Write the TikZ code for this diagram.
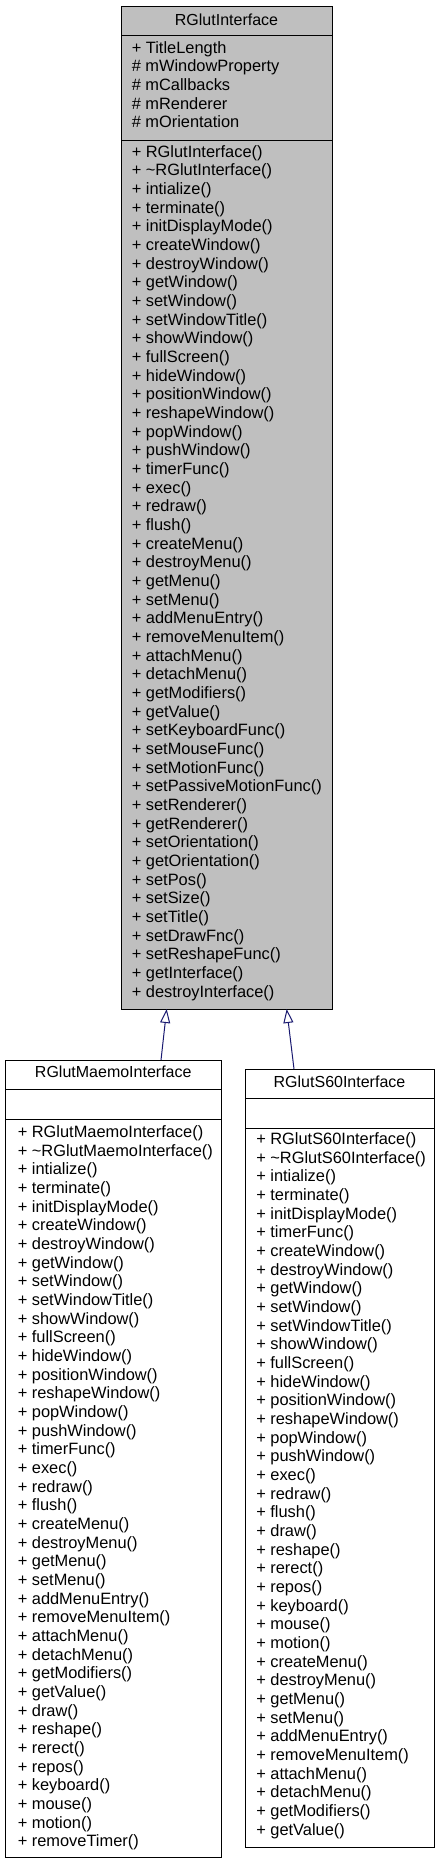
\documentclass[tikz,border=0pt]{standalone}
\usepackage{fontspec}
\setmainfont{Liberation Sans}
\usetikzlibrary{arrows.meta,fit}
\definecolor{edgeblue}{HTML}{191970}
\definecolor{basegray}{HTML}{BFBFBF}
\begin{document}
\begin{tikzpicture}[x=0.75pt,y=-0.75pt,
  classbox/.style={draw=black, line width=0.75pt, inner sep=0pt},
  member/.style={anchor=base west, inner sep=0pt, font=\fontsize{12.3pt}{14pt}\selectfont},
  classtitle/.style={anchor=base, inner sep=0pt, font=\fontsize{12pt}{14pt}\selectfont},
  sepline/.style={line width=0.75pt, draw=black},
  inherit/.style={draw=edgeblue, line width=0.75pt, -{Triangle[length=10.5pt,width=7.5pt,fill=white]}}]
\useasboundingbox (0,0) rectangle (443,1864);

% ---------- base class ----------
\coordinate (bnw) at (121,6);
\coordinate (bse) at (332,1009);
\node[classbox, fill=basegray, fit=(bnw)(bse)] (base) {};
\draw[sepline] (121,35) -- (332,35);
\draw[sepline] (121,140) -- (332,140);
\node[classtitle] (btitle) at (226.5,25) {RGlutInterface};
\foreach \m [count=\i from 0] in {+ TitleLength, \# mWindowProperty, \# mCallbacks, \# mRenderer, \# mOrientation}
  \node[member] (ba\i) at (131.5,{53+18.667*\i}) {\m};
\foreach \m [count=\i from 0] in {RGlutInterface(), \textasciitilde RGlutInterface(), intialize(), terminate(), initDisplayMode(), createWindow(), destroyWindow(), getWindow(), setWindow(), setWindowTitle(), showWindow(), fullScreen(), hideWindow(), positionWindow(), reshapeWindow(), popWindow(), pushWindow(), timerFunc(), exec(), redraw(), flush(), createMenu(), destroyMenu(), getMenu(), setMenu(), addMenuEntry(), removeMenuItem(), attachMenu(), detachMenu(), getModifiers(), getValue(), setKeyboardFunc(), setMouseFunc(), setMotionFunc(), setPassiveMotionFunc(), setRenderer(), getRenderer(), setOrientation(), getOrientation(), setPos(), setSize(), setTitle(), setDrawFnc(), setReshapeFunc(), getInterface(), destroyInterface()}
  \node[member] (bm\i) at (131.5,{157+18.667*\i}) {+ \m};

% ---------- Maemo class ----------
\coordinate (mnw) at (5,1060);
\coordinate (mse) at (221.5,1857);
\node[classbox, fill=white, fit=(mnw)(mse)] (maemo) {};
\draw[sepline] (5,1089) -- (221.5,1089);
\draw[sepline] (5,1119) -- (221.5,1119);
\node[classtitle] (mtitle) at (113.25,1077) {RGlutMaemoInterface};
\foreach \m [count=\i from 0] in {RGlutMaemoInterface(), \textasciitilde RGlutMaemoInterface(), intialize(), terminate(), initDisplayMode(), createWindow(), destroyWindow(), getWindow(), setWindow(), setWindowTitle(), showWindow(), fullScreen(), hideWindow(), positionWindow(), reshapeWindow(), popWindow(), pushWindow(), timerFunc(), exec(), redraw(), flush(), createMenu(), destroyMenu(), getMenu(), setMenu(), addMenuEntry(), removeMenuItem(), attachMenu(), detachMenu(), getModifiers(), getValue(), draw(), reshape(), rerect(), repos(), keyboard(), mouse(), motion(), removeTimer()}
  \node[member] (mm\i) at (17.5,{1137.5+18.667*\i}) {+ \m};

% ---------- S60 class ----------
\coordinate (snw) at (245,1069);
\coordinate (sse) at (434,1847);
\node[classbox, fill=white, fit=(snw)(sse)] (s60) {};
\draw[sepline] (245,1098) -- (434,1098);
\draw[sepline] (245,1128) -- (434,1128);
\node[classtitle] (stitle) at (339.5,1087) {RGlutS60Interface};
\foreach \m [count=\i from 0] in {RGlutS60Interface(), \textasciitilde RGlutS60Interface(), intialize(), terminate(), initDisplayMode(), timerFunc(), createWindow(), destroyWindow(), getWindow(), setWindow(), setWindowTitle(), showWindow(), fullScreen(), hideWindow(), positionWindow(), reshapeWindow(), popWindow(), pushWindow(), exec(), redraw(), flush(), draw(), reshape(), rerect(), repos(), keyboard(), mouse(), motion(), createMenu(), destroyMenu(), getMenu(), setMenu(), addMenuEntry(), removeMenuItem(), attachMenu(), detachMenu(), getModifiers(), getValue()}
  \node[member] (sm\i) at (256,{1144.5+18.667*\i}) {+ \m};

% ---------- inheritance connectors ----------
\coordinate (mtop) at (161,1060);
\coordinate (stop) at (294,1069);
\coordinate (btipl) at (166.7,1009);
\coordinate (btipr) at (286.7,1009);
\draw[inherit] (mtop) -- (btipl);
\draw[inherit] (stop) -- (btipr);
\end{tikzpicture}
\end{document}
